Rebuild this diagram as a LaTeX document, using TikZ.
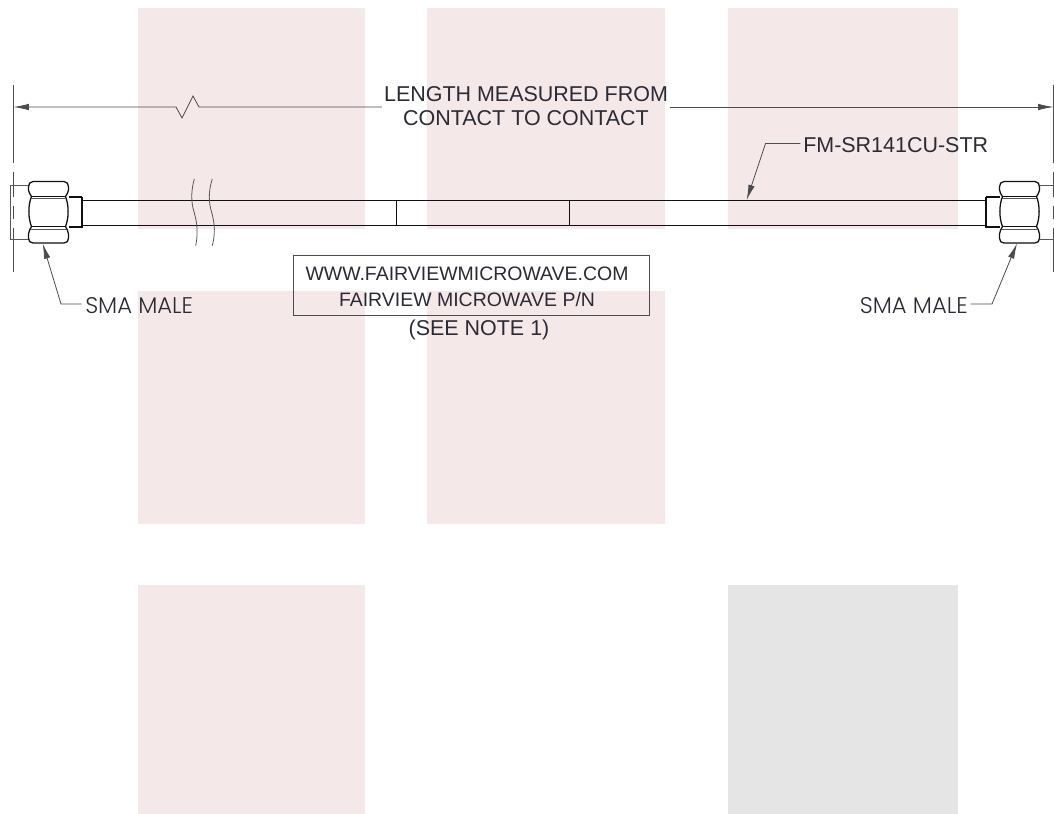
\documentclass[tikz,border=0pt]{standalone}
\usepackage{fontspec}
\setmainfont{Liberation Sans}
\newfontfamily\gothicfont{Poppins Light}
\usetikzlibrary{arrows.meta}
\definecolor{pinkbg}{HTML}{F4E8E9}
\definecolor{graybg}{HTML}{E5E5E5}
\definecolor{inkc}{HTML}{101015}
\definecolor{txtc}{HTML}{2B2B36}
\tikzset{
  bgrect/.style={fill=pinkbg,draw=none},
  dim/.style={draw=inkc!75!white,line width=0.6pt},
  part/.style={draw=inkc,line width=0.7pt},
  nutline/.style={draw=inkc,line width=0.95pt},
  thin part/.style={draw=inkc!70!white,line width=0.6pt},
  tip/.style={-{Latex[length=11.5pt,width=4.8pt]}},
  lbl/.style={inner sep=0pt,text=txtc,font=\fontsize{16.1pt}{18pt}\selectfont},
  lblsmall/.style={inner sep=0pt,text=txtc,font=\fontsize{14.6pt}{18pt}\selectfont},
  gothic/.style={inner sep=0pt,text=txtc,font=\gothicfont\fontsize{17pt}{19pt}\selectfont},
}
\newcommand{\connectorshape}{%
  \draw[thin part] (28.5,185) -- (10.5,185) -- (10.5,239) -- (28.5,239);
  \draw[nutline] (82,197) -- (68.5,197) (68.5,227) -- (82,227) -- (82,197);
  \draw[nutline,fill=white] (33,181.5) -- (64,181.5) .. controls (67,181.5) and (68.5,184) .. (68.5,187) -- (68.5,190)
    .. controls (68.5,193) and (66.5,194) .. (65.5,196.5)
    .. controls (69,205) and (69,218) .. (65.5,226.5)
    .. controls (66.5,229) and (68.5,231) .. (68.5,234) -- (68.5,238)
    .. controls (68.5,241) and (67,243) .. (64,243) -- (33,243)
    .. controls (30,243) and (28.5,241) .. (28.5,238) -- (28.5,234)
    .. controls (28.5,231) and (30.5,229) .. (31.5,226.5)
    .. controls (28,218) and (28,205) .. (31.5,196.5)
    .. controls (30.5,194) and (28.5,193) .. (28.5,190) -- (28.5,187)
    .. controls (28.5,184) and (30,181.5) .. (33,181.5) -- cycle;
  \draw[nutline] (31.5,196.5) -- (65.5,196.5) (31.5,226.5) -- (65.5,226.5);
  \draw[thin part] (31,198) -- (66,198) (31,229.5) -- (66,229.5);
}
\begin{document}
\begin{tikzpicture}[x=0.75pt,y=-0.75pt]
\useasboundingbox (0,0) rectangle (1054,814);
\fill[white] (0,0) rectangle (1054,814);
% background blocks
\fill[bgrect] (138,8) rectangle (365,229);
\fill[bgrect] (427,8) rectangle (665,229);
\fill[bgrect] (728,8) rectangle (958,229);
\fill[bgrect] (138,291) rectangle (365,524);
\fill[bgrect] (427,291) rectangle (665,524);
\fill[bgrect] (138,585) rectangle (365,814);
\fill[graybg] (728,585) rectangle (958,814);
% anchors
\coordinate (dimL) at (13.5,107);
\coordinate (dimR) at (1053.5,107);
\coordinate (zigA) at (176,107);
\coordinate (zigB) at (182,118);
\coordinate (zigC) at (193,96);
\coordinate (zigD) at (199,107);
\coordinate (cabTL) at (82,200);
\coordinate (cabBL) at (82,225);
\coordinate (cabTR) at (986,200);
\coordinate (cabBR) at (986,225);
\coordinate (tipFM) at (746.7,200);
\coordinate (kneeFM) at (765.5,143.5);
\coordinate (tipL) at (42.7,243.5);
\coordinate (kneeL) at (61,304);
\coordinate (tipR) at (1017,243.5);
\coordinate (kneeR) at (992,304);
% extension lines
\draw[dim] (13.5,85) -- (13.5,163) (13.5,172) -- (13.5,197) (13.5,206) -- (13.5,219) (13.5,228) -- (13.5,272);
\draw[dim] (1053.5,85) -- (1053.5,163) (1053.5,172) -- (1053.5,197) (1053.5,206) -- (1053.5,219) (1053.5,228) -- (1053.5,272);
% cable
\draw[part] (cabTL) -- (cabTR) (cabBL) -- (cabBR);
% connectors
\connectorshape
\begin{scope}[xshift=801pt,xscale=-1]
\connectorshape
\end{scope}
% cable breaks
\draw[thin part] (194.3,179) .. controls (191.5,189) and (191,199) .. (193,208) .. controls (196,219) and (199,229) .. (195.7,245.7);
\draw[thin part] (212.3,179) .. controls (209,189) and (208.5,199) .. (210.5,208) .. controls (213.5,219) and (216.5,229) .. (212.3,245.7);
% marker sleeve
\node[draw=inkc,line width=0.7pt,fill=none,minimum width=129.75pt,minimum height=18.75pt,inner sep=0pt] (sleeve) at (482.5,212.5) {};
% texts
\node[lbl] (lenTop) at (526,94) {LENGTH MEASURED FROM};
\node[lbl] (lenBot) at (526,118) {CONTACT TO CONTACT};
\node[lbl,anchor=west] (fm) at (803,145) {FM-SR141CU-STR};
\node[draw=inkc!75!white,line width=0.6pt,minimum width=267.4pt,minimum height=45pt,inner sep=0pt] (marking) at (471.25,285) {};
\node[lblsmall] (www) at (467,274) {WWW.FAIRVIEWMICROWAVE.COM};
\node[lblsmall] (fpn) at (467,300) {FAIRVIEW MICROWAVE P/N};
\node[lbl] (note) at (479,330) {(SEE NOTE 1)};
\node[gothic,anchor=west] (smaL) at (85,306) {SMA MALE};
\node[gothic,anchor=east] (smaR) at (968,306) {SMA MALE};
% dimension line
\draw[dim,{Latex[length=11.5pt,width=4.8pt]}-] (dimL) -- (zigA) -- (zigB) -- (zigC) -- (zigD) -- ([xshift=-1.5pt]lenTop.west |- dimL);
\draw[dim,tip] ([xshift=1pt]lenTop.east |- dimR) -- (dimR);
% leaders
\draw[dim,tip] ([xshift=-2pt]fm.west |- kneeFM) -- (kneeFM) -- (tipFM);
\draw[dim,tip] ([xshift=-2.5pt]smaL.west |- kneeL) -- (kneeL) -- (tipL);
\draw[dim,tip] ([xshift=2pt]smaR.east |- kneeR) -- (kneeR) -- (tipR);
\end{tikzpicture}
\end{document}
